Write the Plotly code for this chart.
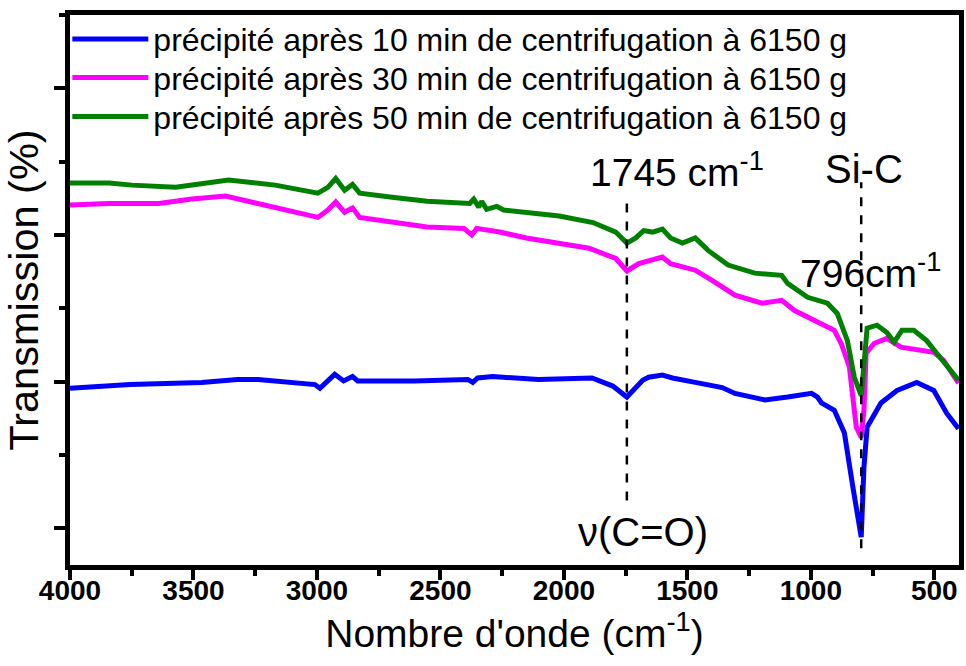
import plotly.graph_objects as go

# FTIR spectra (arbitrary transmission units)
wn_10 = [4000, 3869, 3757, 3467, 3322, 3238, 3109, 3008, 2988, 2928, 2892, 2856, 2835,
         2606, 2389, 2369, 2349, 2288, 2103, 1886, 1802, 1745, 1681, 1657, 1601, 1560,
         1468, 1359, 1307, 1186, 1094, 997, 973, 957, 905, 864, 832, 796, 785, 772,
         716, 651, 571, 502, 450, 402]
t_10 = [19.1, 19.4, 19.6, 19.9, 20.3, 20.3, 19.9, 19.6, 19.1, 21.0, 20.1, 20.7, 20.1,
        20.1, 20.3, 19.9, 20.5, 20.7, 20.3, 20.5, 19.4, 17.9, 20.2, 20.6, 20.9, 20.5,
        19.9, 19.2, 18.4, 17.5, 17.9, 18.4, 17.9, 17.1, 16.1, 13.0, 6.1, -1.2, 8.3, 13.8,
        17.1, 18.8, 19.9, 18.8, 15.7, 13.6]

wn_30 = [4000, 3841, 3640, 3507, 3370, 3169, 2996, 2956, 2924, 2888, 2856, 2827, 2687,
         2554, 2405, 2373, 2353, 2300, 2260, 2152, 2019, 1898, 1790, 1745, 1697, 1641,
         1601, 1568, 1468, 1400, 1307, 1198, 1118, 1066, 985, 905, 877, 844, 816, 796,
         785, 776, 744, 692, 635, 555, 502, 462, 402]
t_30 = [44.1, 44.3, 44.3, 44.9, 45.3, 43.7, 42.4, 43.4, 44.5, 43.1, 43.7, 42.4, 41.7,
        41.1, 40.9, 40.0, 40.9, 40.6, 40.4, 39.6, 38.9, 38.2, 36.8, 35.1, 36.1, 36.7,
        37.0, 36.1, 35.2, 33.8, 31.8, 30.7, 31.1, 29.7, 28.4, 27.0, 25.2, 22.0, 13.8, 12.4,
        16.1, 23.9, 25.2, 25.9, 24.7, 24.3, 24.0, 22.9, 19.8]

wn_50 = [4000, 3841, 3749, 3572, 3358, 3169, 2996, 2956, 2924, 2888, 2856, 2827, 2687,
         2554, 2381, 2365, 2345, 2333, 2313, 2272, 2244, 2152, 2019, 1882, 1790, 1745,
         1709, 1677, 1641, 1601, 1568, 1520, 1468, 1416, 1335, 1227, 1118, 1094, 1013,
         933, 893, 852, 824, 796, 785, 772, 732, 692, 663, 631, 583, 531, 474, 402]
t_50 = [47.1, 47.1, 46.8, 46.5, 47.5, 46.8, 45.7, 46.5, 47.7, 46.1, 46.9, 45.7, 45.1,
        44.6, 44.3, 44.9, 43.8, 44.6, 43.5, 43.9, 43.4, 43.1, 42.6, 41.7, 40.4, 38.9,
        39.6, 40.6, 40.4, 40.8, 39.6, 38.9, 39.6, 37.9, 35.9, 34.8, 34.5, 33.4, 31.5,
        30.7, 29.3, 25.6, 20.6, 18.1, 22.9, 27.3, 27.7, 26.7, 25.4, 27.0, 27.0, 25.6, 23.2, 20.2]

names = [
    "précipité après 10 min de centrifugation à 6150 g",
    "précipité après 30 min de centrifugation à 6150 g",
    "précipité après 50 min de centrifugation à 6150 g",
]
colors = ["#0000FF", "#FF00FF", "#008000"]
legend_ids = ["legend", "legend2", "legend3"]
legend_y = [0.956, 0.886, 0.815]

FONT = "Liberation Sans, Arial, sans-serif"

fig = go.Figure()
for wn, t, name, color, lg in zip([wn_10, wn_30, wn_50], [t_10, t_30, t_50],
                                  names, colors, legend_ids):
    fig.add_trace(go.Scatter(x=wn, y=t, mode="lines", name=name, legend=lg,
                             showlegend=True, line={"color": color, "width": 5}))

# marker lines for the two bands
fig.add_shape(type="line", x0=1745, x1=1745, y0=3.8, y1=45.1, xref="x", yref="y",
              line={"color": "black", "width": 2.5, "dash": "dash"})
fig.add_shape(type="line", x0=796, x1=796, y0=-2.7, y1=47.2, xref="x", yref="y",
              line={"color": "black", "width": 2.5, "dash": "dash"})

notes = [
    (1540, 49.0, "1745 cm<sup>-1</sup>", 39),
    (786, 49.0, "Si-C", 40),
    (760, 35.2, "796cm<sup>-1</sup>", 39),
    (1678, -0.5, "ν(C=O)", 40),
]
for x, y, text, size in notes:
    fig.add_annotation(x=x, y=y, text=text, showarrow=False,
                       font={"family": FONT, "size": size, "color": "black"})

legend_style = {"x": -0.003, "xanchor": "left", "yanchor": "middle",
                "font": {"size": 32, "family": FONT}, "bgcolor": "rgba(0,0,0,0)",
                "itemwidth": 76}
fig.update_layout(
    width=966, height=666,
    margin={"l": 70, "r": 2, "t": 15, "b": 101},
    plot_bgcolor="white", paper_bgcolor="white",
    font={"family": FONT, "color": "black"},
    showlegend=True,
    legend={**legend_style, "y": legend_y[0]},
    legend2={**legend_style, "y": legend_y[1]},
    legend3={**legend_style, "y": legend_y[2]},
)
fig.update_xaxes(
    range=[4000, 400], dtick=500, tick0=0,
    showline=True, linewidth=5, linecolor="black", mirror=True,
    ticks="outside", ticklen=10, tickwidth=4, tickcolor="black",
    minor={"dtick": 250, "ticks": "outside", "ticklen": 6, "tickwidth": 4, "tickcolor": "black"},
    tickfont={"family": FONT, "size": 28, "weight": "bold"},
    ticklabelstandoff=-14,
    showgrid=False, zeroline=False,
    title={"text": "Nombre d'onde (cm<sup>-1</sup>)", "font": {"size": 39}, "standoff": 12},
)
fig.update_yaxes(
    range=[-5, 70], dtick=20, tick0=0, showticklabels=False,
    showline=True, linewidth=5, linecolor="black", mirror=True,
    ticks="outside", ticklen=11, tickwidth=4, tickcolor="black",
    minor={"dtick": 10, "ticks": "outside", "ticklen": 6, "tickwidth": 4, "tickcolor": "black"},
    showgrid=False, zeroline=False,
    title={"text": "Transmission (%)", "font": {"size": 41.5}, "standoff": 10},
)

# drop the default 8px page margin so the figure fills the window exactly
fig.write_html("out.html", config={"displayModeBar": False},
               post_script="document.body.style.margin='0';document.body.style.overflow='hidden';")
